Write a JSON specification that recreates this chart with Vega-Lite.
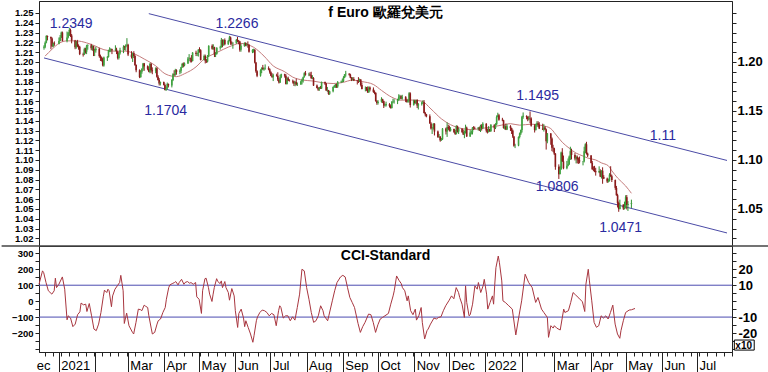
{
"$schema": "https://vega.github.io/schema/vega-lite/v6.json",
"padding": {"left": 0, "top": 0, "right": 0, "bottom": 0},
"background": "white",
"spacing": 0,
"bounds": "flush",
"config": {"view": {"stroke": "#222222", "strokeWidth": 1}, "font": "Liberation Sans", "axis": {"grid": false, "domainColor": "#222222", "tickColor": "#222222", "labelColor": "black", "title": null}},
"datasets": {
"px": [
{"d":"2020-12-15","o":1.2145,"h":1.2170,"l":1.2125,"c":1.2155},
{"d":"2020-12-16","o":1.2155,"h":1.2210,"l":1.2140,"c":1.2197},
{"d":"2020-12-17","o":1.2197,"h":1.2273,"l":1.2190,"c":1.2265},
{"d":"2020-12-18","o":1.2265,"h":1.2270,"l":1.2220,"c":1.2255},
{"d":"2020-12-21","o":1.2255,"h":1.2260,"l":1.2130,"c":1.2240},
{"d":"2020-12-22","o":1.2240,"h":1.2250,"l":1.2150,"c":1.2160},
{"d":"2020-12-23","o":1.2160,"h":1.2200,"l":1.2150,"c":1.2190},
{"d":"2020-12-24","o":1.2190,"h":1.2210,"l":1.2165,"c":1.2185},
{"d":"2020-12-28","o":1.2185,"h":1.2250,"l":1.2180,"c":1.2215},
{"d":"2020-12-29","o":1.2215,"h":1.2275,"l":1.2210,"c":1.2250},
{"d":"2020-12-30","o":1.2250,"h":1.2310,"l":1.2245,"c":1.2300},
{"d":"2020-12-31","o":1.2300,"h":1.2310,"l":1.2210,"c":1.2215},
{"d":"2021-01-04","o":1.2215,"h":1.2310,"l":1.2200,"c":1.2250},
{"d":"2021-01-05","o":1.2250,"h":1.2305,"l":1.2240,"c":1.2297},
{"d":"2021-01-06","o":1.2297,"h":1.2349,"l":1.2265,"c":1.2326},
{"d":"2021-01-07","o":1.2326,"h":1.2340,"l":1.2255,"c":1.2270},
{"d":"2021-01-08","o":1.2270,"h":1.2285,"l":1.2190,"c":1.2220},
{"d":"2021-01-11","o":1.2220,"h":1.2225,"l":1.2130,"c":1.2150},
{"d":"2021-01-12","o":1.2150,"h":1.2215,"l":1.2135,"c":1.2210},
{"d":"2021-01-13","o":1.2210,"h":1.2225,"l":1.2150,"c":1.2160},
{"d":"2021-01-14","o":1.2160,"h":1.2180,"l":1.2125,"c":1.2155},
{"d":"2021-01-15","o":1.2155,"h":1.2165,"l":1.2070,"c":1.2080},
{"d":"2021-01-18","o":1.2080,"h":1.2095,"l":1.2055,"c":1.2075},
{"d":"2021-01-19","o":1.2075,"h":1.2145,"l":1.2070,"c":1.2130},
{"d":"2021-01-20","o":1.2130,"h":1.2145,"l":1.2085,"c":1.2105},
{"d":"2021-01-21","o":1.2105,"h":1.2175,"l":1.2080,"c":1.2165},
{"d":"2021-01-22","o":1.2165,"h":1.2180,"l":1.2125,"c":1.2170},
{"d":"2021-01-25","o":1.2170,"h":1.2185,"l":1.2120,"c":1.2140},
{"d":"2021-01-26","o":1.2140,"h":1.2170,"l":1.2115,"c":1.2160},
{"d":"2021-01-27","o":1.2160,"h":1.2165,"l":1.2060,"c":1.2110},
{"d":"2021-01-28","o":1.2110,"h":1.2135,"l":1.2060,"c":1.2120},
{"d":"2021-01-29","o":1.2120,"h":1.2155,"l":1.2095,"c":1.2135},
{"d":"2021-02-01","o":1.2135,"h":1.2145,"l":1.2045,"c":1.2060},
{"d":"2021-02-02","o":1.2060,"h":1.2075,"l":1.2010,"c":1.2040},
{"d":"2021-02-03","o":1.2040,"h":1.2055,"l":1.2005,"c":1.2035},
{"d":"2021-02-04","o":1.2035,"h":1.2045,"l":1.1955,"c":1.1965},
{"d":"2021-02-05","o":1.1965,"h":1.2055,"l":1.1952,"c":1.2045},
{"d":"2021-02-08","o":1.2045,"h":1.2060,"l":1.2010,"c":1.2050},
{"d":"2021-02-09","o":1.2050,"h":1.2125,"l":1.2045,"c":1.2120},
{"d":"2021-02-10","o":1.2120,"h":1.2150,"l":1.2100,"c":1.2120},
{"d":"2021-02-11","o":1.2120,"h":1.2140,"l":1.2100,"c":1.2130},
{"d":"2021-02-12","o":1.2130,"h":1.2135,"l":1.2080,"c":1.2120},
{"d":"2021-02-15","o":1.2120,"h":1.2170,"l":1.2110,"c":1.2125},
{"d":"2021-02-16","o":1.2125,"h":1.2145,"l":1.2080,"c":1.2105},
{"d":"2021-02-17","o":1.2105,"h":1.2110,"l":1.2025,"c":1.2040},
{"d":"2021-02-18","o":1.2040,"h":1.2095,"l":1.2025,"c":1.2090},
{"d":"2021-02-19","o":1.2090,"h":1.2145,"l":1.2075,"c":1.2120},
{"d":"2021-02-22","o":1.2120,"h":1.2170,"l":1.2090,"c":1.2155},
{"d":"2021-02-23","o":1.2155,"h":1.2165,"l":1.2120,"c":1.2150},
{"d":"2021-02-24","o":1.2150,"h":1.2180,"l":1.2115,"c":1.2170},
{"d":"2021-02-25","o":1.2170,"h":1.2243,"l":1.2160,"c":1.2175},
{"d":"2021-02-26","o":1.2175,"h":1.2185,"l":1.2060,"c":1.2075},
{"d":"2021-03-01","o":1.2075,"h":1.2110,"l":1.2035,"c":1.2050},
{"d":"2021-03-02","o":1.2050,"h":1.2095,"l":1.2000,"c":1.2090},
{"d":"2021-03-03","o":1.2090,"h":1.2110,"l":1.2040,"c":1.2060},
{"d":"2021-03-04","o":1.2060,"h":1.2070,"l":1.1960,"c":1.1970},
{"d":"2021-03-05","o":1.1970,"h":1.1975,"l":1.1895,"c":1.1915},
{"d":"2021-03-08","o":1.1915,"h":1.1925,"l":1.1835,"c":1.1845},
{"d":"2021-03-09","o":1.1845,"h":1.1915,"l":1.1840,"c":1.1900},
{"d":"2021-03-10","o":1.1900,"h":1.1935,"l":1.1880,"c":1.1930},
{"d":"2021-03-11","o":1.1930,"h":1.1990,"l":1.1910,"c":1.1985},
{"d":"2021-03-12","o":1.1985,"h":1.1990,"l":1.1910,"c":1.1955},
{"d":"2021-03-15","o":1.1955,"h":1.1965,"l":1.1915,"c":1.1930},
{"d":"2021-03-16","o":1.1930,"h":1.1955,"l":1.1895,"c":1.1900},
{"d":"2021-03-17","o":1.1900,"h":1.1990,"l":1.1885,"c":1.1980},
{"d":"2021-03-18","o":1.1980,"h":1.1990,"l":1.1890,"c":1.1915},
{"d":"2021-03-19","o":1.1915,"h":1.1945,"l":1.1875,"c":1.1905},
{"d":"2021-03-22","o":1.1905,"h":1.1945,"l":1.1885,"c":1.1935},
{"d":"2021-03-23","o":1.1935,"h":1.1945,"l":1.1840,"c":1.1850},
{"d":"2021-03-24","o":1.1850,"h":1.1865,"l":1.1810,"c":1.1815},
{"d":"2021-03-25","o":1.1815,"h":1.1835,"l":1.1760,"c":1.1780},
{"d":"2021-03-26","o":1.1780,"h":1.1800,"l":1.1760,"c":1.1795},
{"d":"2021-03-29","o":1.1795,"h":1.1800,"l":1.1760,"c":1.1765},
{"d":"2021-03-30","o":1.1765,"h":1.1780,"l":1.1710,"c":1.1715},
{"d":"2021-03-31","o":1.1715,"h":1.1750,"l":1.1704,"c":1.1730},
{"d":"2021-04-01","o":1.1730,"h":1.1790,"l":1.1720,"c":1.1775},
{"d":"2021-04-02","o":1.1775,"h":1.1780,"l":1.1740,"c":1.1760},
{"d":"2021-04-05","o":1.1760,"h":1.1825,"l":1.1740,"c":1.1815},
{"d":"2021-04-06","o":1.1815,"h":1.1885,"l":1.1805,"c":1.1875},
{"d":"2021-04-07","o":1.1875,"h":1.1915,"l":1.1855,"c":1.1870},
{"d":"2021-04-08","o":1.1870,"h":1.1930,"l":1.1860,"c":1.1915},
{"d":"2021-04-09","o":1.1915,"h":1.1925,"l":1.1870,"c":1.1900},
{"d":"2021-04-12","o":1.1900,"h":1.1925,"l":1.1875,"c":1.1910},
{"d":"2021-04-13","o":1.1910,"h":1.1950,"l":1.1885,"c":1.1945},
{"d":"2021-04-14","o":1.1945,"h":1.1990,"l":1.1940,"c":1.1980},
{"d":"2021-04-15","o":1.1980,"h":1.1995,"l":1.1945,"c":1.1965},
{"d":"2021-04-16","o":1.1965,"h":1.1995,"l":1.1955,"c":1.1985},
{"d":"2021-04-19","o":1.1985,"h":1.2050,"l":1.1980,"c":1.2035},
{"d":"2021-04-20","o":1.2035,"h":1.2080,"l":1.2010,"c":1.2035},
{"d":"2021-04-21","o":1.2035,"h":1.2045,"l":1.1995,"c":1.2030},
{"d":"2021-04-22","o":1.2030,"h":1.2070,"l":1.1995,"c":1.2010},
{"d":"2021-04-23","o":1.2010,"h":1.2100,"l":1.2005,"c":1.2095},
{"d":"2021-04-26","o":1.2095,"h":1.2115,"l":1.2060,"c":1.2080},
{"d":"2021-04-27","o":1.2080,"h":1.2095,"l":1.2060,"c":1.2090},
{"d":"2021-04-28","o":1.2090,"h":1.2130,"l":1.2055,"c":1.2125},
{"d":"2021-04-29","o":1.2125,"h":1.2150,"l":1.2095,"c":1.2120},
{"d":"2021-04-30","o":1.2120,"h":1.2130,"l":1.2015,"c":1.2020},
{"d":"2021-05-03","o":1.2020,"h":1.2075,"l":1.2015,"c":1.2060},
{"d":"2021-05-04","o":1.2060,"h":1.2075,"l":1.1985,"c":1.2015},
{"d":"2021-05-05","o":1.2015,"h":1.2030,"l":1.1990,"c":1.2005},
{"d":"2021-05-06","o":1.2005,"h":1.2070,"l":1.1995,"c":1.2065},
{"d":"2021-05-07","o":1.2065,"h":1.2170,"l":1.2050,"c":1.2165},
{"d":"2021-05-10","o":1.2165,"h":1.2180,"l":1.2125,"c":1.2135},
{"d":"2021-05-11","o":1.2135,"h":1.2180,"l":1.2125,"c":1.2150},
{"d":"2021-05-12","o":1.2150,"h":1.2155,"l":1.2050,"c":1.2075},
{"d":"2021-05-13","o":1.2075,"h":1.2100,"l":1.2050,"c":1.2080},
{"d":"2021-05-14","o":1.2080,"h":1.2150,"l":1.2075,"c":1.2145},
{"d":"2021-05-17","o":1.2145,"h":1.2165,"l":1.2125,"c":1.2150},
{"d":"2021-05-18","o":1.2150,"h":1.2245,"l":1.2145,"c":1.2225},
{"d":"2021-05-19","o":1.2225,"h":1.2230,"l":1.2150,"c":1.2175},
{"d":"2021-05-20","o":1.2175,"h":1.2230,"l":1.2165,"c":1.2225},
{"d":"2021-05-21","o":1.2225,"h":1.2240,"l":1.2170,"c":1.2180},
{"d":"2021-05-24","o":1.2180,"h":1.2225,"l":1.2175,"c":1.2215},
{"d":"2021-05-25","o":1.2215,"h":1.2266,"l":1.2210,"c":1.2250},
{"d":"2021-05-26","o":1.2250,"h":1.2260,"l":1.2175,"c":1.2195},
{"d":"2021-05-27","o":1.2195,"h":1.2210,"l":1.2175,"c":1.2190},
{"d":"2021-05-28","o":1.2190,"h":1.2200,"l":1.2135,"c":1.2195},
{"d":"2021-05-31","o":1.2195,"h":1.2235,"l":1.2185,"c":1.2225},
{"d":"2021-06-01","o":1.2225,"h":1.2255,"l":1.2200,"c":1.2215},
{"d":"2021-06-02","o":1.2215,"h":1.2225,"l":1.2180,"c":1.2210},
{"d":"2021-06-03","o":1.2210,"h":1.2215,"l":1.2105,"c":1.2125},
{"d":"2021-06-04","o":1.2125,"h":1.2185,"l":1.2105,"c":1.2165},
{"d":"2021-06-07","o":1.2165,"h":1.2200,"l":1.2155,"c":1.2190},
{"d":"2021-06-08","o":1.2190,"h":1.2200,"l":1.2160,"c":1.2175},
{"d":"2021-06-09","o":1.2175,"h":1.2195,"l":1.2160,"c":1.2180},
{"d":"2021-06-10","o":1.2180,"h":1.2210,"l":1.2145,"c":1.2175},
{"d":"2021-06-11","o":1.2175,"h":1.2180,"l":1.2095,"c":1.2105},
{"d":"2021-06-14","o":1.2105,"h":1.2130,"l":1.2090,"c":1.2120},
{"d":"2021-06-15","o":1.2120,"h":1.2135,"l":1.2095,"c":1.2125},
{"d":"2021-06-16","o":1.2125,"h":1.2130,"l":1.1985,"c":1.1995},
{"d":"2021-06-17","o":1.1995,"h":1.2000,"l":1.1890,"c":1.1905},
{"d":"2021-06-18","o":1.1905,"h":1.1915,"l":1.1845,"c":1.1860},
{"d":"2021-06-21","o":1.1860,"h":1.1925,"l":1.1850,"c":1.1915},
{"d":"2021-06-22","o":1.1915,"h":1.1945,"l":1.1885,"c":1.1940},
{"d":"2021-06-23","o":1.1940,"h":1.1970,"l":1.1920,"c":1.1925},
{"d":"2021-06-24","o":1.1925,"h":1.1945,"l":1.1910,"c":1.1930},
{"d":"2021-06-25","o":1.1930,"h":1.1975,"l":1.1920,"c":1.1935},
{"d":"2021-06-28","o":1.1935,"h":1.1955,"l":1.1915,"c":1.1925},
{"d":"2021-06-29","o":1.1925,"h":1.1935,"l":1.1880,"c":1.1895},
{"d":"2021-06-30","o":1.1895,"h":1.1905,"l":1.1855,"c":1.1858},
{"d":"2021-07-01","o":1.1858,"h":1.1885,"l":1.1840,"c":1.1845},
{"d":"2021-07-02","o":1.1845,"h":1.1880,"l":1.1805,"c":1.1865},
{"d":"2021-07-05","o":1.1865,"h":1.1880,"l":1.1850,"c":1.1860},
{"d":"2021-07-06","o":1.1860,"h":1.1895,"l":1.1805,"c":1.1820},
{"d":"2021-07-07","o":1.1820,"h":1.1835,"l":1.1780,"c":1.1790},
{"d":"2021-07-08","o":1.1790,"h":1.1870,"l":1.1785,"c":1.1845},
{"d":"2021-07-09","o":1.1845,"h":1.1880,"l":1.1835,"c":1.1875},
{"d":"2021-07-12","o":1.1875,"h":1.1880,"l":1.1840,"c":1.1860},
{"d":"2021-07-13","o":1.1860,"h":1.1875,"l":1.1770,"c":1.1775},
{"d":"2021-07-14","o":1.1775,"h":1.1845,"l":1.1770,"c":1.1835},
{"d":"2021-07-15","o":1.1835,"h":1.1850,"l":1.1805,"c":1.1810},
{"d":"2021-07-16","o":1.1810,"h":1.1825,"l":1.1800,"c":1.1805},
{"d":"2021-07-19","o":1.1805,"h":1.1820,"l":1.1780,"c":1.1800},
{"d":"2021-07-20","o":1.1800,"h":1.1810,"l":1.1755,"c":1.1780},
{"d":"2021-07-21","o":1.1780,"h":1.1805,"l":1.1752,"c":1.1795},
{"d":"2021-07-22","o":1.1795,"h":1.1830,"l":1.1760,"c":1.1770},
{"d":"2021-07-23","o":1.1770,"h":1.1790,"l":1.1755,"c":1.1772},
{"d":"2021-07-26","o":1.1772,"h":1.1810,"l":1.1765,"c":1.1800},
{"d":"2021-07-27","o":1.1800,"h":1.1830,"l":1.1770,"c":1.1815},
{"d":"2021-07-28","o":1.1815,"h":1.1850,"l":1.1790,"c":1.1845},
{"d":"2021-07-29","o":1.1845,"h":1.1895,"l":1.1840,"c":1.1885},
{"d":"2021-07-30","o":1.1885,"h":1.1908,"l":1.1860,"c":1.1870},
{"d":"2021-08-02","o":1.1870,"h":1.1890,"l":1.1855,"c":1.1872},
{"d":"2021-08-03","o":1.1872,"h":1.1895,"l":1.1855,"c":1.1865},
{"d":"2021-08-04","o":1.1865,"h":1.1900,"l":1.1825,"c":1.1835},
{"d":"2021-08-05","o":1.1835,"h":1.1865,"l":1.1825,"c":1.1837},
{"d":"2021-08-06","o":1.1837,"h":1.1845,"l":1.1755,"c":1.1760},
{"d":"2021-08-09","o":1.1760,"h":1.1770,"l":1.1730,"c":1.1735},
{"d":"2021-08-10","o":1.1735,"h":1.1745,"l":1.1705,"c":1.1720},
{"d":"2021-08-11","o":1.1720,"h":1.1745,"l":1.1705,"c":1.1740},
{"d":"2021-08-12","o":1.1740,"h":1.1755,"l":1.1725,"c":1.1730},
{"d":"2021-08-13","o":1.1730,"h":1.1800,"l":1.1725,"c":1.1795},
{"d":"2021-08-16","o":1.1795,"h":1.1800,"l":1.1765,"c":1.1780},
{"d":"2021-08-17","o":1.1780,"h":1.1785,"l":1.1705,"c":1.1710},
{"d":"2021-08-18","o":1.1710,"h":1.1745,"l":1.1695,"c":1.1712},
{"d":"2021-08-19","o":1.1712,"h":1.1715,"l":1.1665,"c":1.1675},
{"d":"2021-08-20","o":1.1675,"h":1.1705,"l":1.1664,"c":1.1700},
{"d":"2021-08-23","o":1.1700,"h":1.1750,"l":1.1690,"c":1.1745},
{"d":"2021-08-24","o":1.1745,"h":1.1765,"l":1.1735,"c":1.1755},
{"d":"2021-08-25","o":1.1755,"h":1.1775,"l":1.1735,"c":1.1770},
{"d":"2021-08-26","o":1.1770,"h":1.1780,"l":1.1735,"c":1.1750},
{"d":"2021-08-27","o":1.1750,"h":1.1805,"l":1.1735,"c":1.1795},
{"d":"2021-08-30","o":1.1795,"h":1.1810,"l":1.1785,"c":1.1797},
{"d":"2021-08-31","o":1.1797,"h":1.1830,"l":1.1790,"c":1.1805},
{"d":"2021-09-01","o":1.1805,"h":1.1855,"l":1.1795,"c":1.1840},
{"d":"2021-09-02","o":1.1840,"h":1.1875,"l":1.1835,"c":1.1875},
{"d":"2021-09-03","o":1.1875,"h":1.1909,"l":1.1850,"c":1.1880},
{"d":"2021-09-06","o":1.1880,"h":1.1885,"l":1.1860,"c":1.1870},
{"d":"2021-09-07","o":1.1870,"h":1.1880,"l":1.1835,"c":1.1840},
{"d":"2021-09-08","o":1.1840,"h":1.1845,"l":1.1805,"c":1.1820},
{"d":"2021-09-09","o":1.1820,"h":1.1845,"l":1.1810,"c":1.1825},
{"d":"2021-09-10","o":1.1825,"h":1.1845,"l":1.1805,"c":1.1810},
{"d":"2021-09-13","o":1.1810,"h":1.1815,"l":1.1770,"c":1.1805},
{"d":"2021-09-14","o":1.1805,"h":1.1845,"l":1.1785,"c":1.1803},
{"d":"2021-09-15","o":1.1803,"h":1.1830,"l":1.1795,"c":1.1820},
{"d":"2021-09-16","o":1.1820,"h":1.1825,"l":1.1750,"c":1.1765},
{"d":"2021-09-17","o":1.1765,"h":1.1790,"l":1.1720,"c":1.1725},
{"d":"2021-09-20","o":1.1725,"h":1.1750,"l":1.1700,"c":1.1727},
{"d":"2021-09-21","o":1.1727,"h":1.1745,"l":1.1705,"c":1.1723},
{"d":"2021-09-22","o":1.1723,"h":1.1750,"l":1.1685,"c":1.1690},
{"d":"2021-09-23","o":1.1690,"h":1.1750,"l":1.1685,"c":1.1740},
{"d":"2021-09-24","o":1.1740,"h":1.1750,"l":1.1700,"c":1.1720},
{"d":"2021-09-27","o":1.1720,"h":1.1740,"l":1.1685,"c":1.1695},
{"d":"2021-09-28","o":1.1695,"h":1.1710,"l":1.1670,"c":1.1685},
{"d":"2021-09-29","o":1.1685,"h":1.1690,"l":1.1595,"c":1.1600},
{"d":"2021-09-30","o":1.1600,"h":1.1610,"l":1.1563,"c":1.1580},
{"d":"2021-10-01","o":1.1580,"h":1.1610,"l":1.1565,"c":1.1595},
{"d":"2021-10-04","o":1.1595,"h":1.1640,"l":1.1585,"c":1.1620},
{"d":"2021-10-05","o":1.1620,"h":1.1625,"l":1.1580,"c":1.1600},
{"d":"2021-10-06","o":1.1600,"h":1.1605,"l":1.1530,"c":1.1555},
{"d":"2021-10-07","o":1.1555,"h":1.1575,"l":1.1545,"c":1.1557},
{"d":"2021-10-08","o":1.1557,"h":1.1595,"l":1.1545,"c":1.1570},
{"d":"2021-10-11","o":1.1570,"h":1.1580,"l":1.1535,"c":1.1550},
{"d":"2021-10-12","o":1.1550,"h":1.1565,"l":1.1524,"c":1.1530},
{"d":"2021-10-13","o":1.1530,"h":1.1600,"l":1.1525,"c":1.1595},
{"d":"2021-10-14","o":1.1595,"h":1.1625,"l":1.1580,"c":1.1597},
{"d":"2021-10-15","o":1.1597,"h":1.1620,"l":1.1575,"c":1.1600},
{"d":"2021-10-18","o":1.1600,"h":1.1625,"l":1.1570,"c":1.1610},
{"d":"2021-10-19","o":1.1610,"h":1.1670,"l":1.1605,"c":1.1645},
{"d":"2021-10-20","o":1.1645,"h":1.1665,"l":1.1620,"c":1.1650},
{"d":"2021-10-21","o":1.1650,"h":1.1660,"l":1.1620,"c":1.1625},
{"d":"2021-10-22","o":1.1625,"h":1.1665,"l":1.1615,"c":1.1645},
{"d":"2021-10-25","o":1.1645,"h":1.1650,"l":1.1590,"c":1.1610},
{"d":"2021-10-26","o":1.1610,"h":1.1625,"l":1.1585,"c":1.1595},
{"d":"2021-10-27","o":1.1595,"h":1.1620,"l":1.1585,"c":1.1605},
{"d":"2021-10-28","o":1.1605,"h":1.1692,"l":1.1585,"c":1.1680},
{"d":"2021-10-29","o":1.1680,"h":1.1690,"l":1.1535,"c":1.1560},
{"d":"2021-11-01","o":1.1560,"h":1.1615,"l":1.1555,"c":1.1605},
{"d":"2021-11-02","o":1.1605,"h":1.1615,"l":1.1570,"c":1.1580},
{"d":"2021-11-03","o":1.1580,"h":1.1615,"l":1.1570,"c":1.1612},
{"d":"2021-11-04","o":1.1612,"h":1.1620,"l":1.1530,"c":1.1555},
{"d":"2021-11-05","o":1.1555,"h":1.1580,"l":1.1515,"c":1.1570},
{"d":"2021-11-08","o":1.1570,"h":1.1595,"l":1.1555,"c":1.1585},
{"d":"2021-11-09","o":1.1585,"h":1.1610,"l":1.1570,"c":1.1590},
{"d":"2021-11-10","o":1.1590,"h":1.1610,"l":1.1475,"c":1.1480},
{"d":"2021-11-11","o":1.1480,"h":1.1490,"l":1.1445,"c":1.1465},
{"d":"2021-11-12","o":1.1465,"h":1.1470,"l":1.1435,"c":1.1445},
{"d":"2021-11-15","o":1.1445,"h":1.1465,"l":1.1370,"c":1.1372},
{"d":"2021-11-16","o":1.1372,"h":1.1385,"l":1.1310,"c":1.1320},
{"d":"2021-11-17","o":1.1320,"h":1.1335,"l":1.1265,"c":1.1322},
{"d":"2021-11-18","o":1.1322,"h":1.1375,"l":1.1310,"c":1.1370},
{"d":"2021-11-19","o":1.1370,"h":1.1375,"l":1.1250,"c":1.1290},
{"d":"2021-11-22","o":1.1290,"h":1.1300,"l":1.1225,"c":1.1235},
{"d":"2021-11-23","o":1.1235,"h":1.1265,"l":1.1225,"c":1.1237},
{"d":"2021-11-24","o":1.1237,"h":1.1245,"l":1.1186,"c":1.1200},
{"d":"2021-11-25","o":1.1200,"h":1.1225,"l":1.1195,"c":1.1210},
{"d":"2021-11-26","o":1.1210,"h":1.1325,"l":1.1205,"c":1.1320},
{"d":"2021-11-29","o":1.1320,"h":1.1330,"l":1.1260,"c":1.1290},
{"d":"2021-11-30","o":1.1290,"h":1.1383,"l":1.1235,"c":1.1335},
{"d":"2021-12-01","o":1.1335,"h":1.1360,"l":1.1305,"c":1.1320},
{"d":"2021-12-02","o":1.1320,"h":1.1350,"l":1.1290,"c":1.1300},
{"d":"2021-12-03","o":1.1300,"h":1.1335,"l":1.1290,"c":1.1315},
{"d":"2021-12-06","o":1.1315,"h":1.1320,"l":1.1275,"c":1.1285},
{"d":"2021-12-07","o":1.1285,"h":1.1305,"l":1.1255,"c":1.1265},
{"d":"2021-12-08","o":1.1265,"h":1.1355,"l":1.1260,"c":1.1345},
{"d":"2021-12-09","o":1.1345,"h":1.1350,"l":1.1280,"c":1.1290},
{"d":"2021-12-10","o":1.1290,"h":1.1330,"l":1.1265,"c":1.1315},
{"d":"2021-12-13","o":1.1315,"h":1.1325,"l":1.1275,"c":1.1285},
{"d":"2021-12-14","o":1.1285,"h":1.1310,"l":1.1255,"c":1.1260},
{"d":"2021-12-15","o":1.1260,"h":1.1300,"l":1.1222,"c":1.1290},
{"d":"2021-12-16","o":1.1290,"h":1.1360,"l":1.1270,"c":1.1330},
{"d":"2021-12-17","o":1.1330,"h":1.1340,"l":1.1235,"c":1.1240},
{"d":"2021-12-20","o":1.1240,"h":1.1305,"l":1.1235,"c":1.1280},
{"d":"2021-12-21","o":1.1280,"h":1.1300,"l":1.1260,"c":1.1282},
{"d":"2021-12-22","o":1.1282,"h":1.1335,"l":1.1260,"c":1.1330},
{"d":"2021-12-23","o":1.1330,"h":1.1345,"l":1.1305,"c":1.1325},
{"d":"2021-12-24","o":1.1325,"h":1.1340,"l":1.1315,"c":1.1320},
{"d":"2021-12-27","o":1.1320,"h":1.1335,"l":1.1300,"c":1.1330},
{"d":"2021-12-28","o":1.1330,"h":1.1340,"l":1.1295,"c":1.1310},
{"d":"2021-12-29","o":1.1310,"h":1.1360,"l":1.1285,"c":1.1350},
{"d":"2021-12-30","o":1.1350,"h":1.1365,"l":1.1300,"c":1.1325},
{"d":"2021-12-31","o":1.1325,"h":1.1385,"l":1.1315,"c":1.1370},
{"d":"2022-01-03","o":1.1370,"h":1.1375,"l":1.1280,"c":1.1300},
{"d":"2022-01-04","o":1.1300,"h":1.1320,"l":1.1270,"c":1.1285},
{"d":"2022-01-05","o":1.1285,"h":1.1345,"l":1.1280,"c":1.1315},
{"d":"2022-01-06","o":1.1315,"h":1.1320,"l":1.1285,"c":1.1295},
{"d":"2022-01-07","o":1.1295,"h":1.1365,"l":1.1285,"c":1.1360},
{"d":"2022-01-10","o":1.1360,"h":1.1362,"l":1.1285,"c":1.1325},
{"d":"2022-01-11","o":1.1325,"h":1.1375,"l":1.1315,"c":1.1365},
{"d":"2022-01-12","o":1.1365,"h":1.1455,"l":1.1355,"c":1.1440},
{"d":"2022-01-13","o":1.1440,"h":1.1482,"l":1.1435,"c":1.1455},
{"d":"2022-01-14","o":1.1455,"h":1.1470,"l":1.1400,"c":1.1410},
{"d":"2022-01-17","o":1.1410,"h":1.1430,"l":1.1395,"c":1.1405},
{"d":"2022-01-18","o":1.1405,"h":1.1410,"l":1.1320,"c":1.1325},
{"d":"2022-01-19","o":1.1325,"h":1.1355,"l":1.1310,"c":1.1345},
{"d":"2022-01-20","o":1.1345,"h":1.1370,"l":1.1305,"c":1.1310},
{"d":"2022-01-21","o":1.1310,"h":1.1365,"l":1.1305,"c":1.1345},
{"d":"2022-01-24","o":1.1345,"h":1.1355,"l":1.1295,"c":1.1325},
{"d":"2022-01-25","o":1.1325,"h":1.1330,"l":1.1265,"c":1.1300},
{"d":"2022-01-26","o":1.1300,"h":1.1310,"l":1.1225,"c":1.1240},
{"d":"2022-01-27","o":1.1240,"h":1.1245,"l":1.1135,"c":1.1145},
{"d":"2022-01-28","o":1.1145,"h":1.1165,"l":1.1121,"c":1.1147},
{"d":"2022-01-31","o":1.1147,"h":1.1240,"l":1.1140,"c":1.1235},
{"d":"2022-02-01","o":1.1235,"h":1.1280,"l":1.1220,"c":1.1270},
{"d":"2022-02-02","o":1.1270,"h":1.1310,"l":1.1255,"c":1.1305},
{"d":"2022-02-03","o":1.1305,"h":1.1450,"l":1.1280,"c":1.1440},
{"d":"2022-02-04","o":1.1440,"h":1.1485,"l":1.1420,"c":1.1450},
{"d":"2022-02-07","o":1.1450,"h":1.1455,"l":1.1415,"c":1.1440},
{"d":"2022-02-08","o":1.1440,"h":1.1445,"l":1.1395,"c":1.1415},
{"d":"2022-02-09","o":1.1415,"h":1.1450,"l":1.1405,"c":1.1425},
{"d":"2022-02-10","o":1.1425,"h":1.1495,"l":1.1375,"c":1.1422},
{"d":"2022-02-11","o":1.1422,"h":1.1435,"l":1.1340,"c":1.1350},
{"d":"2022-02-14","o":1.1350,"h":1.1365,"l":1.1280,"c":1.1305},
{"d":"2022-02-15","o":1.1305,"h":1.1370,"l":1.1300,"c":1.1355},
{"d":"2022-02-16","o":1.1355,"h":1.1395,"l":1.1340,"c":1.1375},
{"d":"2022-02-17","o":1.1375,"h":1.1395,"l":1.1335,"c":1.1360},
{"d":"2022-02-18","o":1.1360,"h":1.1385,"l":1.1315,"c":1.1320},
{"d":"2022-02-21","o":1.1320,"h":1.1370,"l":1.1305,"c":1.1310},
{"d":"2022-02-22","o":1.1310,"h":1.1365,"l":1.1290,"c":1.1330},
{"d":"2022-02-23","o":1.1330,"h":1.1345,"l":1.1305,"c":1.1310},
{"d":"2022-02-24","o":1.1310,"h":1.1320,"l":1.1106,"c":1.1190},
{"d":"2022-02-25","o":1.1190,"h":1.1275,"l":1.1170,"c":1.1270},
{"d":"2022-02-28","o":1.1270,"h":1.1275,"l":1.1155,"c":1.1220},
{"d":"2022-03-01","o":1.1220,"h":1.1230,"l":1.1090,"c":1.1125},
{"d":"2022-03-02","o":1.1125,"h":1.1155,"l":1.1080,"c":1.1120},
{"d":"2022-03-03","o":1.1120,"h":1.1125,"l":1.1050,"c":1.1065},
{"d":"2022-03-04","o":1.1065,"h":1.1070,"l":1.0900,"c":1.0930},
{"d":"2022-03-07","o":1.0930,"h":1.0955,"l":1.0806,"c":1.0855},
{"d":"2022-03-08","o":1.0855,"h":1.0935,"l":1.0855,"c":1.0905},
{"d":"2022-03-09","o":1.0905,"h":1.1085,"l":1.0900,"c":1.1075},
{"d":"2022-03-10","o":1.1075,"h":1.1120,"l":1.0980,"c":1.0985},
{"d":"2022-03-11","o":1.0985,"h":1.1045,"l":1.0905,"c":1.0915},
{"d":"2022-03-14","o":1.0915,"h":1.0990,"l":1.0905,"c":1.0940},
{"d":"2022-03-15","o":1.0940,"h":1.1015,"l":1.0935,"c":1.0955},
{"d":"2022-03-16","o":1.0955,"h":1.1045,"l":1.0950,"c":1.1035},
{"d":"2022-03-17","o":1.1035,"h":1.1135,"l":1.1000,"c":1.1090},
{"d":"2022-03-18","o":1.1090,"h":1.1115,"l":1.1005,"c":1.1050},
{"d":"2022-03-21","o":1.1050,"h":1.1070,"l":1.0995,"c":1.1015},
{"d":"2022-03-22","o":1.1015,"h":1.1045,"l":1.0965,"c":1.1030},
{"d":"2022-03-23","o":1.1030,"h":1.1045,"l":1.0965,"c":1.1005},
{"d":"2022-03-24","o":1.1005,"h":1.1025,"l":1.0960,"c":1.0995},
{"d":"2022-03-25","o":1.0995,"h":1.1035,"l":1.0965,"c":1.0985},
{"d":"2022-03-28","o":1.0985,"h":1.0990,"l":1.0945,"c":1.0987},
{"d":"2022-03-29","o":1.0987,"h":1.1135,"l":1.0975,"c":1.1090},
{"d":"2022-03-30","o":1.1090,"h":1.1170,"l":1.1070,"c":1.1160},
{"d":"2022-03-31","o":1.1160,"h":1.1185,"l":1.1055,"c":1.1065},
{"d":"2022-04-01","o":1.1065,"h":1.1075,"l":1.1030,"c":1.1045},
{"d":"2022-04-04","o":1.1045,"h":1.1050,"l":1.0965,"c":1.0970},
{"d":"2022-04-05","o":1.0970,"h":1.0990,"l":1.0900,"c":1.0905},
{"d":"2022-04-06","o":1.0905,"h":1.0935,"l":1.0885,"c":1.0900},
{"d":"2022-04-07","o":1.0900,"h":1.0940,"l":1.0875,"c":1.0885},
{"d":"2022-04-08","o":1.0885,"h":1.0920,"l":1.0840,"c":1.0875},
{"d":"2022-04-11","o":1.0875,"h":1.0935,"l":1.0865,"c":1.0887},
{"d":"2022-04-12","o":1.0887,"h":1.0905,"l":1.0825,"c":1.0830},
{"d":"2022-04-13","o":1.0830,"h":1.0895,"l":1.0810,"c":1.0890},
{"d":"2022-04-14","o":1.0890,"h":1.0925,"l":1.0757,"c":1.0825},
{"d":"2022-04-15","o":1.0825,"h":1.0845,"l":1.0805,"c":1.0810},
{"d":"2022-04-18","o":1.0810,"h":1.0820,"l":1.0765,"c":1.0780},
{"d":"2022-04-19","o":1.0780,"h":1.0810,"l":1.0770,"c":1.0790},
{"d":"2022-04-20","o":1.0790,"h":1.0865,"l":1.0780,"c":1.0850},
{"d":"2022-04-21","o":1.0850,"h":1.0936,"l":1.0825,"c":1.0835},
{"d":"2022-04-22","o":1.0835,"h":1.0850,"l":1.0775,"c":1.0795},
{"d":"2022-04-25","o":1.0795,"h":1.0800,"l":1.0695,"c":1.0715},
{"d":"2022-04-26","o":1.0715,"h":1.0735,"l":1.0635,"c":1.0640},
{"d":"2022-04-27","o":1.0640,"h":1.0655,"l":1.0515,"c":1.0560},
{"d":"2022-04-28","o":1.0560,"h":1.0575,"l":1.0471,"c":1.0500},
{"d":"2022-04-29","o":1.0500,"h":1.0595,"l":1.0495,"c":1.0545},
{"d":"2022-05-02","o":1.0545,"h":1.0547,"l":1.0490,"c":1.0505},
{"d":"2022-05-03","o":1.0505,"h":1.0575,"l":1.0495,"c":1.0525},
{"d":"2022-05-04","o":1.0525,"h":1.0640,"l":1.0505,"c":1.0620},
{"d":"2022-05-05","o":1.0620,"h":1.0642,"l":1.0495,"c":1.0540},
{"d":"2022-05-06","o":1.0540,"h":1.0580,"l":1.0480,"c":1.0550},
{"d":"2022-05-09","o":1.0550,"h":1.0595,"l":1.0510,"c":1.0560}
],
"ma": [
{"d":"2020-12-16","v":1.2060},{"d":"2020-12-22","v":1.2130},{"d":"2020-12-28","v":1.2190},{"d":"2021-01-04","v":1.2215},{"d":"2021-01-12","v":1.2215},{"d":"2021-01-21","v":1.2195},{"d":"2021-01-29","v":1.2160},{"d":"2021-02-05","v":1.2125},{"d":"2021-02-15","v":1.2110},{"d":"2021-02-24","v":1.2110},{"d":"2021-03-04","v":1.2080},{"d":"2021-03-12","v":1.2030},{"d":"2021-03-22","v":1.1960},{"d":"2021-03-30","v":1.1880},{"d":"2021-04-05","v":1.1855},{"d":"2021-04-09","v":1.1850},{"d":"2021-04-16","v":1.1880},{"d":"2021-04-26","v":1.1950},{"d":"2021-05-03","v":1.2030},{"d":"2021-05-12","v":1.2085},{"d":"2021-05-20","v":1.2130},{"d":"2021-05-28","v":1.2170},{"d":"2021-06-03","v":1.2190},{"d":"2021-06-09","v":1.2180},{"d":"2021-06-15","v":1.2150},{"d":"2021-06-24","v":1.2060},{"d":"2021-07-02","v":1.1960},{"d":"2021-07-12","v":1.1900},{"d":"2021-07-19","v":1.1845},{"d":"2021-07-28","v":1.1815},{"d":"2021-08-05","v":1.1806},{"d":"2021-08-13","v":1.1790},{"d":"2021-08-23","v":1.1780},{"d":"2021-08-31","v":1.1790},{"d":"2021-09-09","v":1.1815},{"d":"2021-09-17","v":1.1800},{"d":"2021-09-27","v":1.1770},{"d":"2021-10-04","v":1.1710},{"d":"2021-10-13","v":1.1640},{"d":"2021-10-21","v":1.1610},{"d":"2021-10-29","v":1.1612},{"d":"2021-11-08","v":1.1600},{"d":"2021-11-16","v":1.1520},{"d":"2021-11-25","v":1.1420},{"d":"2021-12-03","v":1.1360},{"d":"2021-12-13","v":1.1320},{"d":"2021-12-21","v":1.1310},{"d":"2021-12-29","v":1.1320},{"d":"2022-01-07","v":1.1335},{"d":"2022-01-14","v":1.1350},{"d":"2022-01-24","v":1.1370},{"d":"2022-02-01","v":1.1355},{"d":"2022-02-11","v":1.1365},{"d":"2022-02-21","v":1.1350},{"d":"2022-02-28","v":1.1320},{"d":"2022-03-04","v":1.1265},{"d":"2022-03-10","v":1.1180},{"d":"2022-03-16","v":1.1120},{"d":"2022-03-22","v":1.1070},{"d":"2022-03-28","v":1.1040},{"d":"2022-04-01","v":1.1020},{"d":"2022-04-08","v":1.1000},{"d":"2022-04-13","v":1.0970},{"d":"2022-04-19","v":1.0940},{"d":"2022-04-22","v":1.0890},{"d":"2022-04-27","v":1.0816},{"d":"2022-05-04","v":1.0735},{"d":"2022-05-09","v":1.0660}
],
"cci": [
{"d":"2020-12-15","v":106},{"d":"2020-12-18","v":190},{"d":"2020-12-19","v":179},{"d":"2020-12-21","v":117},{"d":"2020-12-23","v":65},{"d":"2020-12-26","v":44},{"d":"2020-12-28","v":65},{"d":"2020-12-29","v":144},{"d":"2020-12-30","v":85},{"d":"2021-01-01","v":106},{"d":"2021-01-04","v":152},{"d":"2021-01-06","v":75},{"d":"2021-01-08","v":-117},{"d":"2021-01-09","v":-92},{"d":"2021-01-11","v":-106},{"d":"2021-01-13","v":-160},{"d":"2021-01-15","v":-144},{"d":"2021-01-17","v":-85},{"d":"2021-01-19","v":-67},{"d":"2021-01-20","v":-12},{"d":"2021-01-22","v":-23},{"d":"2021-01-24","v":-19},{"d":"2021-01-25","v":-65},{"d":"2021-01-27","v":-15},{"d":"2021-01-29","v":-92},{"d":"2021-01-31","v":-175},{"d":"2021-02-02","v":-185},{"d":"2021-02-04","v":-144},{"d":"2021-02-06","v":-71},{"d":"2021-02-08","v":27},{"d":"2021-02-09","v":69},{"d":"2021-02-11","v":54},{"d":"2021-02-12","v":75},{"d":"2021-02-13","v":65},{"d":"2021-02-15","v":-35},{"d":"2021-02-16","v":33},{"d":"2021-02-18","v":75},{"d":"2021-02-20","v":96},{"d":"2021-02-22","v":117},{"d":"2021-02-23","v":162},{"d":"2021-02-25","v":65},{"d":"2021-02-26","v":-140},{"d":"2021-02-28","v":-75},{"d":"2021-03-02","v":-154},{"d":"2021-03-05","v":-196},{"d":"2021-03-06","v":-206},{"d":"2021-03-08","v":-133},{"d":"2021-03-10","v":-50},{"d":"2021-03-12","v":-54},{"d":"2021-03-13","v":-60},{"d":"2021-03-15","v":-25},{"d":"2021-03-16","v":-31},{"d":"2021-03-18","v":-40},{"d":"2021-03-19","v":-92},{"d":"2021-03-21","v":-169},{"d":"2021-03-22","v":-206},{"d":"2021-03-24","v":-196},{"d":"2021-03-26","v":-144},{"d":"2021-03-27","v":-123},{"d":"2021-03-29","v":-112},{"d":"2021-03-31","v":-71},{"d":"2021-04-02","v":-40},{"d":"2021-04-03","v":12},{"d":"2021-04-05","v":85},{"d":"2021-04-06","v":102},{"d":"2021-04-08","v":110},{"d":"2021-04-10","v":117},{"d":"2021-04-11","v":123},{"d":"2021-04-13","v":102},{"d":"2021-04-14","v":117},{"d":"2021-04-16","v":137},{"d":"2021-04-18","v":106},{"d":"2021-04-19","v":117},{"d":"2021-04-21","v":123},{"d":"2021-04-23","v":112},{"d":"2021-04-24","v":117},{"d":"2021-04-26","v":106},{"d":"2021-04-28","v":117},{"d":"2021-04-29","v":27},{"d":"2021-05-01","v":12},{"d":"2021-05-03","v":-77},{"d":"2021-05-04","v":65},{"d":"2021-05-06","v":141},{"d":"2021-05-07","v":144},{"d":"2021-05-09","v":85},{"d":"2021-05-10","v":44},{"d":"2021-05-12","v":-2},{"d":"2021-05-13","v":44},{"d":"2021-05-14","v":85},{"d":"2021-05-16","v":141},{"d":"2021-05-17","v":123},{"d":"2021-05-19","v":110},{"d":"2021-05-20","v":127},{"d":"2021-05-21","v":85},{"d":"2021-05-23","v":123},{"d":"2021-05-24","v":85},{"d":"2021-05-26","v":54},{"d":"2021-05-27","v":6},{"d":"2021-05-29","v":79},{"d":"2021-05-31","v":33},{"d":"2021-06-01","v":-60},{"d":"2021-06-03","v":-165},{"d":"2021-06-04","v":-77},{"d":"2021-06-06","v":-50},{"d":"2021-06-08","v":-106},{"d":"2021-06-09","v":-160},{"d":"2021-06-10","v":-123},{"d":"2021-06-12","v":-165},{"d":"2021-06-14","v":-206},{"d":"2021-06-16","v":-258},{"d":"2021-06-17","v":-217},{"d":"2021-06-19","v":-123},{"d":"2021-06-20","v":-98},{"d":"2021-06-22","v":-71},{"d":"2021-06-24","v":-56},
{"d":"2021-06-26","v":-60},{"d":"2021-06-28","v":-71},{"d":"2021-06-30","v":-92},{"d":"2021-07-02","v":-77},{"d":"2021-07-04","v":-85},{"d":"2021-07-06","v":-154},{"d":"2021-07-08","v":-60},{"d":"2021-07-09","v":-29},{"d":"2021-07-10","v":-40},{"d":"2021-07-12","v":-106},{"d":"2021-07-14","v":-92},{"d":"2021-07-16","v":-92},{"d":"2021-07-18","v":-123},{"d":"2021-07-20","v":-98},{"d":"2021-07-22","v":-119},{"d":"2021-07-24","v":-40},{"d":"2021-07-26","v":44},{"d":"2021-07-28","v":200},{"d":"2021-07-30","v":190},{"d":"2021-08-01","v":85},{"d":"2021-08-03","v":12},{"d":"2021-08-05","v":-71},{"d":"2021-08-07","v":-133},{"d":"2021-08-09","v":-123},{"d":"2021-08-11","v":-92},{"d":"2021-08-13","v":-29},{"d":"2021-08-15","v":-60},{"d":"2021-08-16","v":-92},{"d":"2021-08-19","v":-123},{"d":"2021-08-20","v":-92},{"d":"2021-08-23","v":2},{"d":"2021-08-25","v":65},{"d":"2021-08-27","v":117},{"d":"2021-08-30","v":152},{"d":"2021-09-01","v":162},{"d":"2021-09-03","v":152},{"d":"2021-09-05","v":85},{"d":"2021-09-07","v":23},{"d":"2021-09-09","v":-8},{"d":"2021-09-11","v":-40},{"d":"2021-09-14","v":-140},{"d":"2021-09-16","v":-196},{"d":"2021-09-18","v":-160},{"d":"2021-09-20","v":-133},{"d":"2021-09-23","v":-81},{"d":"2021-09-25","v":-85},{"d":"2021-09-27","v":-133},{"d":"2021-09-29","v":-196},{"d":"2021-10-01","v":-148},{"d":"2021-10-03","v":-112},{"d":"2021-10-05","v":-102},{"d":"2021-10-07","v":-92},{"d":"2021-10-10","v":-77},{"d":"2021-10-12","v":-19},{"d":"2021-10-14","v":33},{"d":"2021-10-15","v":65},{"d":"2021-10-17","v":158},{"d":"2021-10-19","v":131},{"d":"2021-10-21","v":110},{"d":"2021-10-22","v":85},{"d":"2021-10-24","v":65},{"d":"2021-10-26","v":2},{"d":"2021-10-27","v":33},{"d":"2021-10-29","v":-60},{"d":"2021-10-31","v":-85},{"d":"2021-11-02","v":-50},{"d":"2021-11-03","v":-119},{"d":"2021-11-05","v":-92},{"d":"2021-11-07","v":-40},{"d":"2021-11-08","v":-133},{"d":"2021-11-10","v":-237},{"d":"2021-11-12","v":-185},{"d":"2021-11-13","v":-175},{"d":"2021-11-15","v":-144},{"d":"2021-11-18","v":-106},{"d":"2021-11-20","v":-112},{"d":"2021-11-22","v":-102},{"d":"2021-11-24","v":-98},{"d":"2021-11-26","v":-60},{"d":"2021-11-28","v":-29},{"d":"2021-12-01","v":6},{"d":"2021-12-03","v":33},{"d":"2021-12-05","v":15},{"d":"2021-12-07","v":85},{"d":"2021-12-09","v":54},{"d":"2021-12-10","v":23},{"d":"2021-12-12","v":-19},{"d":"2021-12-14","v":-102},{"d":"2021-12-15","v":96},{"d":"2021-12-16","v":-8},{"d":"2021-12-18","v":-92},{"d":"2021-12-19","v":-85},{"d":"2021-12-21","v":-19},{"d":"2021-12-23","v":96},{"d":"2021-12-25","v":75},{"d":"2021-12-26","v":117},{"d":"2021-12-28","v":54},{"d":"2021-12-30","v":96},{"d":"2021-12-31","v":137},{"d":"2022-01-02","v":44},{"d":"2022-01-03","v":-50},{"d":"2022-01-05","v":-8},{"d":"2022-01-07","v":33},{"d":"2022-01-08","v":-19},{"d":"2022-01-09","v":106},{"d":"2022-01-10","v":210},{"d":"2022-01-12","v":283},{"d":"2022-01-13","v":241},{"d":"2022-01-15","v":127},{"d":"2022-01-16","v":2},
{"d":"2022-01-18","v":-8},{"d":"2022-01-21","v":-29},{"d":"2022-01-24","v":-50},{"d":"2022-01-27","v":-212},{"d":"2022-01-30","v":-81},{"d":"2022-02-01","v":2},{"d":"2022-02-04","v":169},{"d":"2022-02-07","v":117},{"d":"2022-02-10","v":85},{"d":"2022-02-13","v":-8},{"d":"2022-02-15","v":23},{"d":"2022-02-18","v":-50},{"d":"2022-02-20","v":-71},{"d":"2022-02-23","v":-102},{"d":"2022-02-24","v":-227},{"d":"2022-02-26","v":-154},{"d":"2022-02-28","v":-169},{"d":"2022-03-01","v":-154},{"d":"2022-03-03","v":-169},{"d":"2022-03-06","v":-181},{"d":"2022-03-09","v":-50},{"d":"2022-03-10","v":-71},{"d":"2022-03-13","v":-60},{"d":"2022-03-15","v":-8},{"d":"2022-03-17","v":54},{"d":"2022-03-19","v":40},{"d":"2022-03-22","v":19},{"d":"2022-03-25","v":-4},{"d":"2022-03-27","v":-65},{"d":"2022-03-28","v":106},{"d":"2022-03-30","v":200},{"d":"2022-03-31","v":127},{"d":"2022-04-02","v":2},{"d":"2022-04-04","v":-133},{"d":"2022-04-06","v":-164},{"d":"2022-04-08","v":-154},{"d":"2022-04-10","v":-92},{"d":"2022-04-12","v":-106},{"d":"2022-04-14","v":-92},{"d":"2022-04-16","v":-112},{"d":"2022-04-18","v":-71},{"d":"2022-04-20","v":-25},{"d":"2022-04-22","v":-144},{"d":"2022-04-24","v":-206},{"d":"2022-04-26","v":-233},{"d":"2022-04-27","v":-185},{"d":"2022-04-29","v":-123},{"d":"2022-05-01","v":-71},{"d":"2022-05-04","v":-56},{"d":"2022-05-06","v":-54},{"d":"2022-05-09","v":-46}
],
"ch": [
{"k":"upper","d":"2021-03-16","p":1.2493},{"k":"upper","d":"2022-07-31","p":1.0995},
{"k":"lower","d":"2020-12-15","p":1.2041},{"k":"lower","d":"2022-07-31","p":1.0255}
],
"ann": [
{"d":"2020-12-20","p":1.2383,"t":"1.2349"},
{"d":"2021-05-13","p":1.2388,"t":"1.2266"},
{"d":"2021-03-12","p":1.1500,"t":"1.1704"},
{"d":"2022-01-29","p":1.1653,"t":"1.1495"},
{"d":"2022-05-25","p":1.1245,"t":"1.11"},
{"d":"2022-02-15","p":1.0724,"t":"1.0806"},
{"d":"2022-04-11","p":1.0306,"t":"1.0471"}
]
},
"vconcat": [
{
"width": 693,
"height": 245,
"title": {"text": "f Euro 歐羅兌美元", "fontSize": 14, "fontWeight": "bold", "font": "Liberation Sans", "color": "black", "offset": -19, "anchor": "middle"},
"layer": [
{
"data": {"name": "ch"},
"mark": {"type": "line", "color": "#4b4ba6", "strokeWidth": 1},
"encoding": {
"x": {"field": "d", "type": "temporal", "scale": {"type": "utc", "domain": [{"year": 2020, "month": 12, "date": 15, "utc": true}, {"year": 2022, "month": 7, "date": 31, "utc": true}]}, "axis": null},
"y": {"field": "p", "type": "quantitative", "scale": {"domain": [1.0122, 1.2622], "nice": false, "zero": false}, "axis": {"orient": "left", "values": [1.02,1.03,1.04,1.05,1.06,1.07,1.08,1.09,1.10,1.11,1.12,1.13,1.14,1.15,1.16,1.17,1.18,1.19,1.20,1.21,1.22,1.23,1.24,1.25], "format": ".2f", "labelFontSize": 9.5, "labelFontWeight": "bold", "labelFont": "Liberation Sans", "tickSize": 4, "labelPadding": 2, "labelOverlap": false, "labelFlush": false}},
"detail": {"field": "k"}
}
},
{
"data": {"name": "ma"},
"mark": {"type": "line", "color": "#c47c7c", "strokeWidth": 1, "interpolate": "monotone"},
"encoding": {
"x": {"field": "d", "type": "temporal", "axis": null},
"y": {"field": "v", "type": "quantitative", "axis": {"orient": "right", "values": [1.02,1.03,1.04,1.05,1.06,1.07,1.08,1.09,1.10,1.11,1.12,1.13,1.14,1.15,1.16,1.17,1.18,1.19,1.20,1.21,1.22,1.23,1.24,1.25], "labelExpr": "indexof(['1.05','1.10','1.15','1.20'], format(datum.value, '.2f')) >= 0 ? format(datum.value, '.2f') : ''", "labelFontSize": 13, "labelFontWeight": "bold", "labelFont": "Liberation Sans", "tickSize": 4, "labelPadding": 1, "labelOverlap": false, "labelFlush": false}}
}
},
{
"data": {"name": "px"},
"mark": {"type": "rule", "strokeWidth": 1},
"encoding": {
"x": {"field": "d", "type": "temporal", "axis": null},
"y": {"field": "l", "type": "quantitative", "axis": null},
"y2": {"field": "h"},
"color": {"condition": {"test": "datum.c >= datum.o", "value": "#2f8f2f"}, "value": "#8b1a1a"}
}
},
{
"data": {"name": "px"},
"mark": {"type": "bar", "width": 1.6},
"encoding": {
"x": {"field": "d", "type": "temporal", "axis": null},
"y": {"field": "o", "type": "quantitative", "axis": null},
"y2": {"field": "c"},
"color": {"condition": {"test": "datum.c >= datum.o", "value": "#3fa33f"}, "value": "#8b1a1a"}
}
},
{
"data": {"name": "ann"},
"mark": {"type": "text", "align": "left", "baseline": "middle", "fontSize": 14, "font": "Liberation Sans", "color": "#2a2aa0"},
"encoding": {
"x": {"field": "d", "type": "temporal", "axis": null},
"y": {"field": "p", "type": "quantitative", "axis": null},
"text": {"field": "t"}
}
}
],
"resolve": {"axis": {"y": "independent"}}
},
{
"width": 693,
"height": 106,
"title": {"text": "CCI-Standard", "fontSize": 14, "fontWeight": "bold", "font": "Liberation Sans", "color": "black", "offset": -18, "anchor": "middle"},
"layer": [
{
"data": {"values": [{"d1": "2020-11-13", "d2": "2022-09-01", "v": 346}]},
"mark": {"type": "rule", "color": "#444444", "strokeWidth": 1.5},
"encoding": {
"x": {"field": "d1", "type": "temporal", "axis": null},
"x2": {"field": "d2"},
"y": {"field": "v", "type": "quantitative", "axis": null}
}
},
{
"data": {"values": [{"v": 100}, {"v": -100}]},
"mark": {"type": "rule", "color": "#4b4bb0", "strokeWidth": 1},
"encoding": {
"y": {"field": "v", "type": "quantitative", "scale": {"domain": [-319, 346], "nice": false, "zero": false}, "axis": {"orient": "right", "values": [-300,-250,-200,-150,-100,-50,0,50,100,150,200,250,300], "labelExpr": "datum.value == 200 ? '20' : datum.value == 100 ? '10' : datum.value == -100 ? '-10' : datum.value == -200 ? '-20' : ''", "labelFontSize": 13, "labelFontWeight": "bold", "labelFont": "Liberation Sans", "tickSize": 4, "labelPadding": 2, "labelOverlap": false, "labelFlush": false}}
}
},
{
"data": {"name": "cci"},
"mark": {"type": "line", "color": "#a8363f", "strokeWidth": 1},
"encoding": {
"x": {"field": "d", "type": "temporal", "scale": {"type": "utc", "domain": [{"year": 2020, "month": 12, "date": 15, "utc": true}, {"year": 2022, "month": 7, "date": 31, "utc": true}]}, "axis": {"orient": "bottom", "tickCount": {"interval": "month", "step": 1}, "tickSize": 21, "labelPadding": -7.5, "labelAlign": "left", "labelBaseline": "middle", "labelOffset": 2, "labelFontSize": 13, "labelFont": "Liberation Sans", "labelOverlap": false, "labelFlush": false, "labelBound": false, "labelExpr": "utcFormat(datum.value, '%m') == '01' ? utcFormat(datum.value, '%Y') : (utcFormat(datum.value, '%m') == '02' ? '' : utcFormat(datum.value, '%b'))"}},
"y": {"field": "v", "type": "quantitative", "axis": {"orient": "left", "values": [-300,-250,-200,-150,-100,-50,0,50,100,150,200,250,300], "labelExpr": "datum.value % 100 == 0 && datum.value > -300 ? format(datum.value, 'd') : ''", "labelFontSize": 9.5, "labelFontWeight": "bold", "labelFont": "Liberation Sans", "tickSize": 4, "labelPadding": 2, "labelOverlap": false, "labelFlush": false}}
}
},
{
"data": {"values": [{"d": "2020-12-13", "v": -407, "t": "ec"}]},
"mark": {"type": "text", "align": "left", "baseline": "middle", "fontSize": 13, "font": "Liberation Sans", "color": "black"},
"encoding": {
"x": {"field": "d", "type": "temporal", "axis": {"orient": "bottom", "tickCount": {"interval": "week", "step": 1}, "tickSize": 4, "labels": false, "domain": false}},
"y": {"field": "v", "type": "quantitative", "axis": null},
"text": {"field": "t"}
}
},
{
"data": {"values": [{"d1": "2022-08-02", "d2": "2022-08-19", "v1": -244, "v2": -307}]},
"mark": {"type": "rect", "fill": "white", "stroke": "black", "strokeWidth": 1},
"encoding": {
"x": {"field": "d1", "type": "temporal", "axis": null},
"x2": {"field": "d2"},
"y": {"field": "v1", "type": "quantitative", "axis": null},
"y2": {"field": "v2"}
}
},
{
"data": {"values": [{"d": "2022-08-10", "v": -281, "t": "x10"}]},
"mark": {"type": "text", "align": "center", "baseline": "middle", "fontSize": 10, "fontWeight": "bold", "font": "Liberation Sans", "color": "black"},
"encoding": {
"x": {"field": "d", "type": "temporal", "axis": null},
"y": {"field": "v", "type": "quantitative", "axis": null},
"text": {"field": "t"}
}
}
],
"resolve": {"axis": {"x": "independent", "y": "independent"}}
}
]
}
